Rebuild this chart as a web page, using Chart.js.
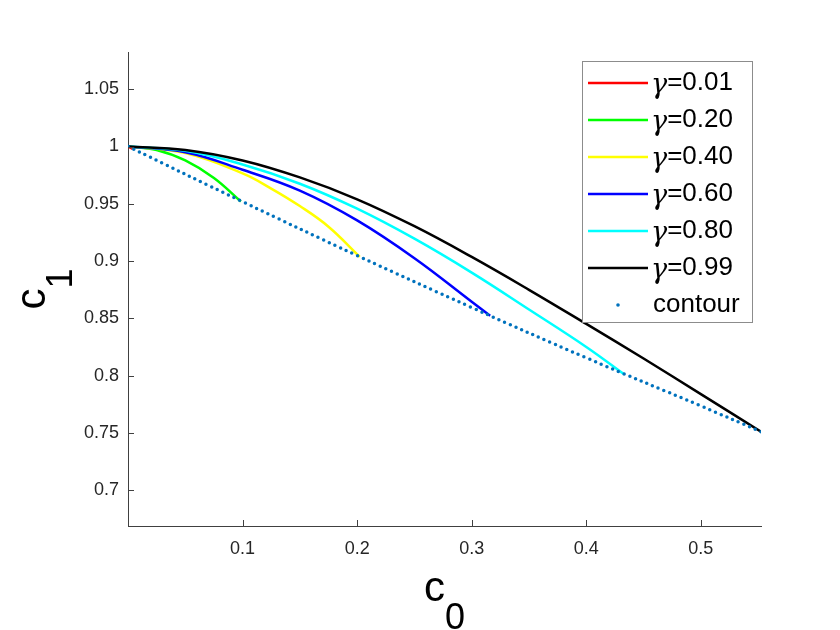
<!DOCTYPE html>
<html>
<head>
<meta charset="utf-8">
<script src="https://cdn.jsdelivr.net/npm/chart.js@4"></script>
<style>
  html, body { margin: 0; padding: 0; background: #fff; }
  canvas { display: block; }
</style>
</head>
<body>
<canvas id="c1c0Chart" width="840" height="630"></canvas>
<script>
// values
const xTicks = [0.1, 0.2, 0.3, 0.4, 0.5];
const yTicks = [0.7, 0.75, 0.8, 0.85, 0.9, 0.95, 1, 1.05];
const yTickLabels = ['0.7', '0.75', '0.8', '0.85', '0.9', '0.95', '1', '1.05'];

const red_c0 = [0, 0.004];
const red_c1 = [1, 0.998];
const green_c0 = [0, 0.025, 0.05, 0.075, 0.0985];
const green_c1 = [1, 0.997, 0.9878, 0.9725, 0.952];
const yellow_c0 = [0, 0.05, 0.1, 0.125, 0.15, 0.175, 0.2023];
const yellow_c1 = [1, 0.9942, 0.9765, 0.9633, 0.948, 0.930, 0.9037];
const blue_c0 = [0, 0.05, 0.1, 0.15, 0.2, 0.25, 0.3, 0.3161];
const blue_c1 = [1, 0.995, 0.9797, 0.9615, 0.9355, 0.9025, 0.8645, 0.8522];
const cyan_c0 = [0, 0.05, 0.1, 0.15, 0.2, 0.25, 0.3, 0.35, 0.4, 0.4328];
const cyan_c1 = [1, 0.9962, 0.9843, 0.9675, 0.9457, 0.9195, 0.8899, 0.8577, 0.825, 0.8013];
const black_c0 = [0, 0.05, 0.1, 0.15, 0.2, 0.25, 0.3, 0.35, 0.4, 0.45, 0.5, 0.5525];
const black_c1 = [1, 0.997, 0.9878, 0.973, 0.9539, 0.9304, 0.9036, 0.8749, 0.8451, 0.8149, 0.7838, 0.751];
const contour_c0 = [0, 0.1, 0.2, 0.3, 0.4, 0.5, 0.5525];
const contour_c1 = [1, 0.9518, 0.9048, 0.8594, 0.8155, 0.7735, 0.751];

const legendLabels = ['γ=0.01', 'γ=0.20', 'γ=0.40', 'γ=0.60', 'γ=0.80', 'γ=0.99', 'contour'];
const seriesColors = ['#ff0000', '#00ff00', '#ffff00', '#0000ff', '#00ffff', '#000000', '#0072bd'];

function pts(xs, ys) {
  return xs.map((x, i) => ({ x: x, y: ys[i] }));
}

function curve(label, xs, ys, color, order) {
  return {
    label: label,
    data: pts(xs, ys),
    borderColor: color,
    backgroundColor: color,
    borderWidth: 2.5,
    pointRadius: 0,
    showLine: true,
    tension: 0.4,
    order: order
  };
}

const datasets = [
  curve(legendLabels[0], red_c0, red_c1, seriesColors[0], 6),
  curve(legendLabels[1], green_c0, green_c1, seriesColors[1], 5),
  curve(legendLabels[2], yellow_c0, yellow_c1, seriesColors[2], 4),
  curve(legendLabels[3], blue_c0, blue_c1, seriesColors[3], 3),
  curve(legendLabels[4], cyan_c0, cyan_c1, seriesColors[4], 2),
  curve(legendLabels[5], black_c0, black_c1, seriesColors[5], 1),
  {
    label: legendLabels[6],
    data: pts(contour_c0, contour_c1),
    borderColor: seriesColors[6],
    borderWidth: 3.5,
    borderDash: [0, 6.2],
    borderCapStyle: 'round',
    pointRadius: 0,
    showLine: true,
    tension: 0.4,
    order: 0
  }
];

// MATLAB-ish decorations: inward ticks, subscript axis labels, boxed legend
const decorations = {
  id: 'decorations',
  afterDraw(chart) {
    const ctx = chart.ctx;
    const xs = chart.scales.x, ys = chart.scales.y;
    const area = chart.chartArea;
    ctx.save();
    ctx.strokeStyle = '#404040';
    ctx.lineWidth = 1;
    ctx.beginPath();
    xTicks.forEach(v => {
      const px = Math.round(xs.getPixelForValue(v)) + 0.5;
      ctx.moveTo(px, area.bottom);
      ctx.lineTo(px, area.bottom - 6);
    });
    yTicks.forEach(v => {
      const py = Math.round(ys.getPixelForValue(v)) + 0.5;
      ctx.moveTo(area.left, py);
      ctx.lineTo(area.left + 6, py);
    });
    ctx.stroke();

    // axis labels
    ctx.fillStyle = '#000';
    ctx.textBaseline = 'alphabetic';
    ctx.textAlign = 'left';
    const big = '42px "Liberation Sans", Arial, sans-serif';
    const sub = '36px "Liberation Sans", Arial, sans-serif';
    ctx.font = big;
    const wc = ctx.measureText('c').width;
    ctx.font = sub;
    const w0 = ctx.measureText('0').width;
    const x0 = (area.left + area.right) / 2 - (wc + w0) / 2;
    ctx.font = big;
    ctx.fillText('c', x0, 601);
    ctx.font = sub;
    ctx.fillText('0', x0 + wc, 629);

    ctx.save();
    ctx.translate(45, (area.top + area.bottom) / 2);
    ctx.rotate(-Math.PI / 2);
    ctx.font = sub;
    const w1 = ctx.measureText('1').width;
    ctx.font = big;
    ctx.fillText('c', -(wc + w1) / 2, 0);
    ctx.font = sub;
    ctx.fillText('1', -(wc + w1) / 2 + wc, 27);
    ctx.restore();

    // legend box
    const bx = 582.5, by = 61.5, bw = 170, bh = 261;
    ctx.fillStyle = '#fff';
    ctx.fillRect(bx, by, bw, bh);
    ctx.strokeStyle = '#8c8c8c';
    ctx.lineWidth = 1;
    ctx.strokeRect(bx, by, bw, bh);
    chart.data.datasets.forEach((ds, i) => {
      const cy = 83 + i * 37;
      if (i < 6) {
        ctx.strokeStyle = ds.borderColor;
        ctx.lineWidth = 2.5;
        ctx.beginPath();
        ctx.moveTo(588, cy);
        ctx.lineTo(648, cy);
        ctx.stroke();
        ctx.fillStyle = '#000';
        ctx.textBaseline = 'middle';
        ctx.font = 'italic 27px "DejaVu Serif", "Liberation Serif", serif';
        ctx.fillText(ds.label.charAt(0), 651, cy + 3);
        const wg = ctx.measureText(ds.label.charAt(0)).width;
        ctx.font = '26px "Liberation Sans", Arial, sans-serif';
        ctx.fillText(ds.label.slice(1), 651 + wg, cy);
      } else {
        ctx.fillStyle = ds.borderColor;
        ctx.beginPath();
        ctx.arc(618, cy, 1.8, 0, Math.PI * 2);
        ctx.fill();
        ctx.fillStyle = '#000';
        ctx.textBaseline = 'middle';
        ctx.font = '26px "Liberation Sans", Arial, sans-serif';
        ctx.fillText(ds.label, 653, cy);
      }
    });
    ctx.restore();
  }
};

const ctx = document.getElementById('c1c0Chart').getContext('2d');
new Chart(ctx, {
  type: 'scatter',
  data: { datasets: datasets },
  options: {
    responsive: false,
    animation: false,
    devicePixelRatio: 1,
    layout: { padding: { top: 52, right: 79, left: 0, bottom: 0 } },
    plugins: { legend: { display: false }, tooltip: { enabled: false } },
    scales: {
      x: {
        type: 'linear',
        min: 0,
        max: 0.5525,
        grid: { display: false, drawTicks: false },
        border: { display: true, color: '#404040', width: 1 },
        afterBuildTicks: s => { s.ticks = xTicks.map(v => ({ value: v })); },
        afterFit: s => { s.height = 104; },
        ticks: {
          padding: 12,
          color: '#262626',
          font: { family: '"Liberation Sans", Arial, sans-serif', size: 18 },
          callback: v => String(v)
        }
      },
      y: {
        type: 'linear',
        min: 0.6687,
        max: 1.0825,
        grid: { display: false, drawTicks: false },
        border: { display: true, color: '#404040', width: 1 },
        afterBuildTicks: s => { s.ticks = yTicks.map(v => ({ value: v })); },
        afterFit: s => { s.width = 128; },
        ticks: {
          padding: 9,
          color: '#262626',
          font: { family: '"Liberation Sans", Arial, sans-serif', size: 18 },
          callback: (v, i) => yTickLabels[i]
        }
      }
    }
  },
  plugins: [decorations]
});
</script>
</body>
</html>
